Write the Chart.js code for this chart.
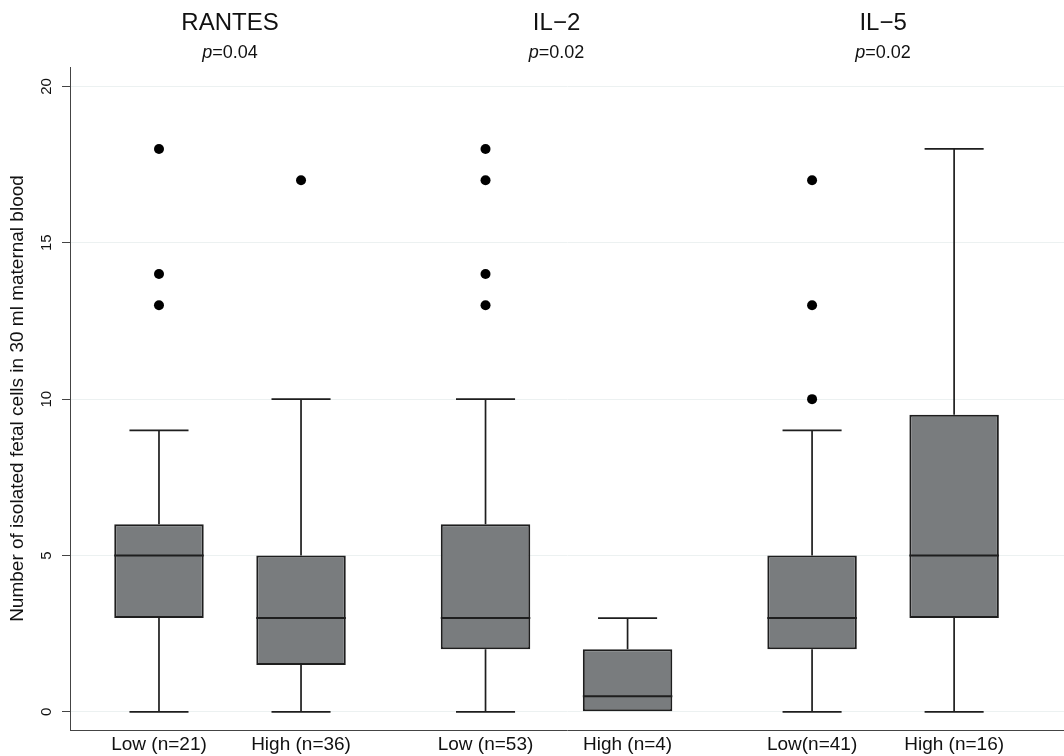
<!DOCTYPE html>
<html>
<head>
<meta charset="utf-8">
<title>Fetal cells by cytokine level</title>
<script src="https://cdn.jsdelivr.net/npm/chart.js@4.4.1/dist/chart.umd.min.js"></script>
<style>
  html, body { margin: 0; padding: 0; background: #fff; }
  #wrap { width: 1064px; height: 756px; position: relative; }
</style>
</head>
<body>
<div id="wrap"><canvas id="boxChart"></canvas></div>
<script>
// Cytokine panels and their group labels
const panels = ['RANTES', 'IL\u22122', 'IL\u22125'];
const pValues = ['0.04', '0.02', '0.02'];
const lowLabels = ['Low (n=21)', 'Low (n=53)', 'Low(n=41)'];
const highLabels = ['High (n=36)', 'High (n=4)', 'High (n=16)'];

// Five-number summaries, low-level groups
const lowMin = [0, 0, 0];
const lowQ1 = [3, 2, 2];
const lowMedian = [5, 3, 3];
const lowQ3 = [6, 6, 5];
const lowMax = [9, 10, 9];
const lowOutliers = [[13, 14, 18], [13, 14, 17, 18], [10, 13, 17]];

// Five-number summaries, high-level groups
const highMin = [0, 0, 0];
const highQ1 = [1.5, 0, 3];
const highMedian = [3, 0.5, 5];
const highQ3 = [5, 2, 9.5];
const highMax = [10, 3, 18];
const highOutliers = [[17], [], []];

const yTicks = [0, 5, 10, 15, 20];

const FONT = "'Liberation Sans', Arial, Helvetica, sans-serif";
const INK = '#1e1e1e';
const BOX_FILL = '#797c7e';

const groups = [
  { labels: lowLabels, min: lowMin, q1: lowQ1, med: lowMedian, q3: lowQ3, max: lowMax, out: lowOutliers },
  { labels: highLabels, min: highMin, q1: highQ1, med: highMedian, q3: highQ3, max: highMax, out: highOutliers }
];

function boxData(g) {
  return panels.map((p, i) => ({ x: i, y: [g.q1[i], g.q3[i]] }));
}

// medians, whiskers and outside values on top of the box bars
const boxParts = {
  id: 'boxParts',
  afterDatasetsDraw(chart) {
    const ctx = chart.ctx;
    const y = chart.scales.y;
    ctx.save();
    ctx.strokeStyle = INK;
    ctx.fillStyle = '#000';
    groups.forEach((g, d) => {
      chart.getDatasetMeta(d).data.forEach((el, i) => {
        const cx = el.x;
        const half = el.width / 2;
        const cap = el.width * 0.33;
        // median
        ctx.lineWidth = 2;
        ctx.beginPath();
        ctx.moveTo(cx - half, y.getPixelForValue(g.med[i]));
        ctx.lineTo(cx + half, y.getPixelForValue(g.med[i]));
        ctx.stroke();
        // whiskers
        ctx.lineWidth = 1.7;
        ctx.beginPath();
        ctx.moveTo(cx, y.getPixelForValue(g.q3[i]));
        ctx.lineTo(cx, y.getPixelForValue(g.max[i]));
        ctx.moveTo(cx - cap, y.getPixelForValue(g.max[i]));
        ctx.lineTo(cx + cap, y.getPixelForValue(g.max[i]));
        if (g.min[i] < g.q1[i]) {
          ctx.moveTo(cx, y.getPixelForValue(g.q1[i]));
          ctx.lineTo(cx, y.getPixelForValue(g.min[i]));
          ctx.moveTo(cx - cap, y.getPixelForValue(g.min[i]));
          ctx.lineTo(cx + cap, y.getPixelForValue(g.min[i]));
        }
        ctx.stroke();
        // outside values
        g.out[i].forEach(v => {
          ctx.beginPath();
          ctx.arc(cx, y.getPixelForValue(v), 5, 0, Math.PI * 2);
          ctx.fill();
        });
      });
    });
    ctx.restore();
  }
};

// panel titles, group labels, rotated y ticks and axis title
const textLayer = {
  id: 'textLayer',
  afterDraw(chart) {
    const ctx = chart.ctx;
    const x = chart.scales.x;
    const y = chart.scales.y;
    const area = chart.chartArea;
    ctx.save();
    ctx.fillStyle = '#111';
    ctx.textBaseline = 'middle';

    panels.forEach((name, i) => {
      const cx = x.getPixelForValue(i);
      ctx.textAlign = 'center';
      ctx.font = '24px ' + FONT;
      ctx.fillText(name, cx, 23);
      // italic p followed by the value
      ctx.font = 'italic 18px ' + FONT;
      const pw = ctx.measureText('p').width;
      ctx.font = '18px ' + FONT;
      const rest = '=' + pValues[i];
      const rw = ctx.measureText(rest).width;
      const start = cx - (pw + rw) / 2;
      ctx.textAlign = 'left';
      ctx.font = 'italic 18px ' + FONT;
      ctx.fillText('p', start, 53);
      ctx.font = '18px ' + FONT;
      ctx.fillText(rest, start + pw, 53);
    });

    ctx.textAlign = 'center';
    ctx.font = '19px ' + FONT;
    groups.forEach((g, d) => {
      chart.getDatasetMeta(d).data.forEach((el, i) => {
        ctx.fillText(g.labels[i], el.x, 745);
      });
    });

    ctx.font = '15px ' + FONT;
    y.ticks.forEach(t => {
      ctx.save();
      ctx.translate(47, y.getPixelForValue(t.value));
      ctx.rotate(-Math.PI / 2);
      ctx.fillText(String(t.value), 0, 0);
      ctx.restore();
    });

    ctx.font = '19px ' + FONT;
    ctx.translate(18, (area.top + area.bottom) / 2);
    ctx.rotate(-Math.PI / 2);
    ctx.fillText('Number of isolated fetal cells in 30 ml maternal blood', 0, 0);
    ctx.restore();
  }
};

new Chart(document.getElementById('boxChart').getContext('2d'), {
  type: 'bar',
  data: {
    datasets: groups.map(g => ({
      data: boxData(g),
      backgroundColor: BOX_FILL,
      borderColor: INK,
      borderWidth: 2,
      borderSkipped: false,
      categoryPercentage: 0.87,
      barPercentage: 0.63
    }))
  },
  options: {
    responsive: true,
    maintainAspectRatio: false,
    animation: false,
    layout: { padding: { top: 67, bottom: 26, left: 62, right: 0 } },
    plugins: {
      legend: { display: false },
      tooltip: { enabled: false }
    },
    scales: {
      x: {
        type: 'linear',
        offset: false,
        min: -0.49,
        max: 2.554,
        afterBuildTicks: axis => { axis.ticks = panels.map((p, i) => ({ value: i })); },
        ticks: { display: false },
        grid: { display: false, drawTicks: false },
        border: { color: '#444', width: 1 }
      },
      y: {
        min: -0.58,
        max: 20.62,
        afterBuildTicks: axis => { axis.ticks = yTicks.map(v => ({ value: v })); },
        ticks: { display: false },
        grid: { color: '#ecf1f1', lineWidth: 1, tickLength: 8, tickColor: '#444' },
        border: { color: '#444', width: 1 }
      }
    }
  },
  plugins: [boxParts, textLayer]
});
</script>
</body>
</html>
